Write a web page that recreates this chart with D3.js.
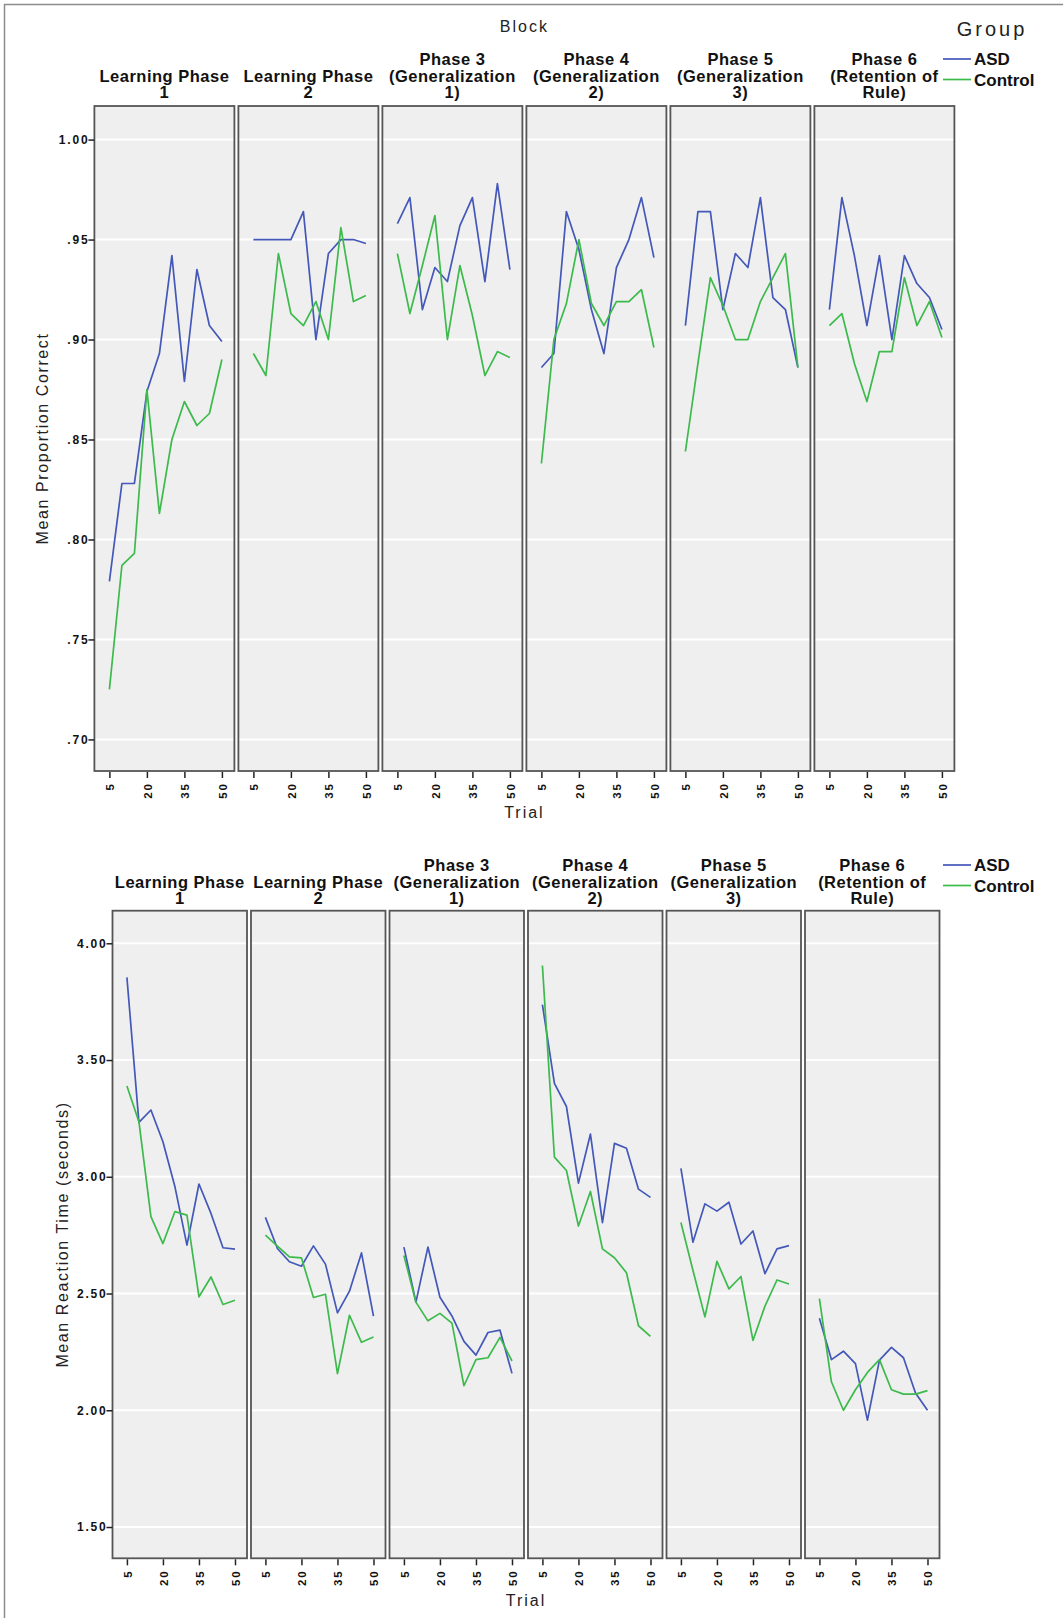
<!DOCTYPE html>
<html>
<head>
<meta charset="utf-8">
<script src="https://cdn.jsdelivr.net/npm/d3@7"></script>
<style>
  body { margin: 0; background: #fff; }
  svg text { font-family: "Liberation Sans", Arial, sans-serif; }
</style>
</head>
<body>
<div id="chart"></div>
<script>
const TRIALS = [5, 10, 15, 20, 25, 30, 35, 40, 45, 50];
const TRIAL_TICKS = [5, 20, 35, 50];
const BLOCK_LABELS = [
  ["Learning Phase", "1"],
  ["Learning Phase", "2"],
  ["Phase 3", "(Generalization", "1)"],
  ["Phase 4", "(Generalization", "2)"],
  ["Phase 5", "(Generalization", "3)"],
  ["Phase 6", "(Retention of", "Rule)"]
];
const GROUPS = ["ASD", "Control"];
const GROUP_COLORS = ["#4358b8", "#3cba4c"];

// mean proportion correct, one row per block, one value per trial bin
const ACC_ASD = [
  [0.779, 0.828, 0.828, 0.874, 0.893, 0.942, 0.879, 0.935, 0.907, 0.899],
  [0.950, 0.950, 0.950, 0.950, 0.964, 0.900, 0.943, 0.950, 0.950, 0.948],
  [0.958, 0.971, 0.915, 0.936, 0.929, 0.957, 0.971, 0.929, 0.978, 0.935],
  [0.886, 0.893, 0.964, 0.945, 0.915, 0.893, 0.936, 0.950, 0.971, 0.941],
  [0.907, 0.964, 0.964, 0.915, 0.943, 0.936, 0.971, 0.921, 0.915, 0.886],
  [0.915, 0.971, 0.942, 0.907, 0.942, 0.900, 0.942, 0.928, 0.921, 0.905]
];
const ACC_CONTROL = [
  [0.725, 0.787, 0.793, 0.875, 0.813, 0.850, 0.869, 0.857, 0.863, 0.890],
  [0.893, 0.882, 0.943, 0.913, 0.907, 0.919, 0.900, 0.956, 0.919, 0.922],
  [0.943, 0.913, 0.937, 0.962, 0.900, 0.937, 0.912, 0.882, 0.894, 0.891],
  [0.838, 0.900, 0.918, 0.950, 0.918, 0.907, 0.919, 0.919, 0.925, 0.896],
  [0.844, 0.888, 0.931, 0.917, 0.900, 0.900, 0.919, 0.931, 0.943, 0.886],
  [0.907, 0.913, 0.888, 0.869, 0.894, 0.894, 0.931, 0.907, 0.919, 0.901]
];

// mean reaction time (s)
const RT_ASD = [
  [3.854, 3.233, 3.286, 3.150, 2.957, 2.707, 2.969, 2.843, 2.696, 2.690],
  [2.826, 2.693, 2.636, 2.617, 2.704, 2.626, 2.417, 2.510, 2.674, 2.403],
  [2.699, 2.463, 2.699, 2.484, 2.404, 2.295, 2.236, 2.333, 2.343, 2.158],
  [3.737, 3.400, 3.301, 2.973, 3.183, 2.804, 3.143, 3.122, 2.947, 2.912],
  [3.036, 2.720, 2.884, 2.853, 2.891, 2.712, 2.768, 2.585, 2.691, 2.705],
  [2.394, 2.217, 2.253, 2.200, 1.958, 2.215, 2.269, 2.225, 2.074, 2.000]
];
const RT_CONTROL = [
  [3.389, 3.236, 2.829, 2.714, 2.851, 2.836, 2.486, 2.571, 2.453, 2.471],
  [2.750, 2.703, 2.657, 2.653, 2.483, 2.497, 2.157, 2.407, 2.291, 2.314],
  [2.663, 2.463, 2.383, 2.415, 2.373, 2.105, 2.217, 2.225, 2.312, 2.211],
  [3.905, 3.084, 3.027, 2.789, 2.937, 2.691, 2.653, 2.589, 2.362, 2.316],
  [2.804, 2.600, 2.400, 2.638, 2.520, 2.573, 2.299, 2.446, 2.558, 2.541],
  [2.478, 2.122, 2.000, 2.088, 2.162, 2.217, 2.088, 2.069, 2.069, 2.084]
];

const ACC_TICKS = [1.00, 0.95, 0.90, 0.85, 0.80, 0.75, 0.70];
const RT_TICKS = [4.00, 3.50, 3.00, 2.50, 2.00, 1.50];

const W = 1063, H = 1618;
const svg = d3.select("#chart").append("svg")
  .attr("width", W).attr("height", H);

svg.append("rect").attr("width", W).attr("height", H).attr("fill", "#fff");
// outer frame
svg.append("rect")
  .attr("x", 4.5).attr("y", 4.5)
  .attr("width", W + 20).attr("height", H + 20)
  .attr("fill", "none").attr("stroke", "#8c8c8c").attr("stroke-width", 1.5);

function drawFacets(cfg) {
  const blocks = d3.range(BLOCK_LABELS.length);
  const px = d3.scaleBand().domain(blocks)
    .range([cfg.left, cfg.right]).paddingInner(cfg.gap).paddingOuter(0);
  const pw = px.bandwidth();
  const x = d3.scaleLinear().domain([-1, 55]).range([0, pw]);
  const y = d3.scaleLinear().domain(cfg.yDomain).range([cfg.bottom, cfg.top]);
  const fmt = cfg.fmt;

  const line = d3.line()
    .x(d => x(d.t))
    .y(d => y(d.v));

  blocks.forEach(b => {
    const g = svg.append("g").attr("transform", `translate(${px(b)},0)`);

    g.append("rect")
      .attr("x", 0).attr("y", cfg.top)
      .attr("width", pw).attr("height", cfg.bottom - cfg.top)
      .attr("fill", "#efefef");

    g.selectAll(null)
      .data(cfg.ticks)
      .enter().append("line")
      .attr("x1", 0).attr("x2", pw)
      .attr("y1", d => y(d)).attr("y2", d => y(d))
      .attr("stroke", "#fff").attr("stroke-width", 2);

    cfg.series.forEach((rows, gi) => {
      g.append("path")
        .datum(TRIALS.map((t, i) => ({ t, v: rows[b][i] })))
        .attr("fill", "none")
        .attr("stroke", GROUP_COLORS[gi])
        .attr("stroke-width", 1.7)
        .attr("stroke-linejoin", "round")
        .attr("d", line);
    });

    g.append("rect")
      .attr("x", 0).attr("y", cfg.top)
      .attr("width", pw).attr("height", cfg.bottom - cfg.top)
      .attr("fill", "none").attr("stroke", "#555").attr("stroke-width", 1.8);

    // x axis
    const xa = g.append("g")
      .attr("transform", `translate(0,${cfg.bottom + 1})`)
      .call(d3.axisBottom(x).tickValues(TRIAL_TICKS).tickSize(6));
    xa.select(".domain").remove();
    xa.selectAll(".tick line").attr("stroke", "#222").attr("stroke-width", 1.5);
    xa.selectAll(".tick text")
      .attr("transform", "rotate(-90)")
      .attr("text-anchor", "end")
      .attr("x", -10).attr("y", 0).attr("dy", "0.36em")
      .attr("font-size", 11.5).attr("font-weight", 700)
      .attr("letter-spacing", 2).attr("fill", "#111");

    // panel title
    const lines = BLOCK_LABELS[b];
    const startY = cfg.titleY + (3 - lines.length) * cfg.titleStep;
    const tt = g.append("text")
      .attr("text-anchor", "middle")
      .attr("font-size", 16.5).attr("font-weight", 700)
      .attr("letter-spacing", 0.5).attr("fill", "#111");
    lines.forEach((s, i) => {
      tt.append("tspan").attr("x", pw / 2)
        .attr("y", startY + i * cfg.titleStep).text(s);
    });
  });

  // y axis on first panel
  const ya = svg.append("g")
    .attr("transform", `translate(${cfg.left},0)`)
    .call(d3.axisLeft(y).tickValues(cfg.ticks).tickFormat(fmt).tickSize(6));
  ya.select(".domain").remove();
  ya.selectAll(".tick line").attr("stroke", "#222").attr("stroke-width", 1.5);
  ya.selectAll(".tick text")
    .attr("x", -5)
    .attr("font-size", 12).attr("font-weight", 700)
    .attr("letter-spacing", 1.8).attr("fill", "#111");

  svg.append("text")
    .attr("transform", `translate(${cfg.yTitleX},${(cfg.top + cfg.bottom) / 2}) rotate(-90)`)
    .attr("text-anchor", "middle")
    .attr("font-size", 16).attr("letter-spacing", 1.6).attr("fill", "#222")
    .text(cfg.yTitle);

  svg.append("text")
    .attr("x", (cfg.left + cfg.right) / 2).attr("y", cfg.trialY)
    .attr("text-anchor", "middle")
    .attr("font-size", 16).attr("letter-spacing", 2).attr("fill", "#222")
    .text("Trial");

  // legend
  GROUPS.forEach((name, i) => {
    const ly = cfg.legendY + i * 20.5;
    svg.append("line")
      .attr("x1", 943).attr("x2", 971)
      .attr("y1", ly).attr("y2", ly)
      .attr("stroke", GROUP_COLORS[i]).attr("stroke-width", 1.7);
    svg.append("text")
      .attr("x", 974).attr("y", ly + 6)
      .attr("font-size", 17).attr("font-weight", 700)
      .attr("fill", "#111")
      .text(name);
  });
}

const accFmt = d => d3.format(".2f")(d).replace(/^0/, "");

drawFacets({
  left: 94.4, right: 954.4, gap: 4 / 144,
  top: 106, bottom: 771,
  yDomain: [0.6842, 1.0168],
  ticks: ACC_TICKS, fmt: accFmt,
  series: [ACC_ASD, ACC_CONTROL],
  titleY: 65, titleStep: 16.5,
  yTitle: "Mean Proportion Correct", yTitleX: 48,
  trialY: 818, legendY: 59
});

drawFacets({
  left: 112.5, right: 939.5, gap: 4 / 138.5,
  top: 910.7, bottom: 1558.3,
  yDomain: [1.366, 4.1396],
  ticks: RT_TICKS, fmt: d3.format(".2f"),
  series: [RT_ASD, RT_CONTROL],
  titleY: 871, titleStep: 16.5,
  yTitle: "Mean Reaction Time (seconds)", yTitleX: 68,
  trialY: 1606, legendY: 865
});

svg.append("text")
  .attr("x", 524.4).attr("y", 31.5)
  .attr("text-anchor", "middle")
  .attr("font-size", 16).attr("letter-spacing", 2).attr("fill", "#222")
  .text("Block");

svg.append("text")
  .attr("x", 992).attr("y", 36)
  .attr("text-anchor", "middle")
  .attr("font-size", 20).attr("letter-spacing", 3).attr("fill", "#222")
  .text("Group");
</script>
</body>
</html>
